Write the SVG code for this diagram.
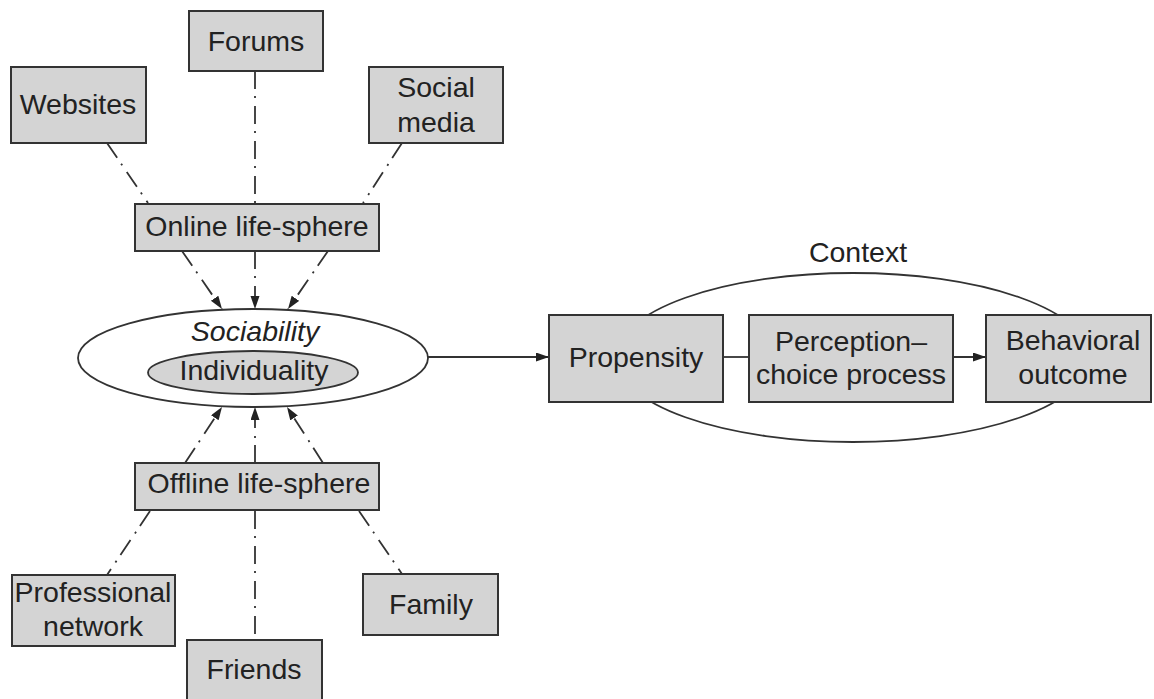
<svg xmlns="http://www.w3.org/2000/svg" width="1154" height="699" viewBox="0 0 1154 699">
<defs>
<style>
.box{fill:#d4d4d4;stroke:#333;stroke-width:2}
.t{font-family:"Liberation Sans",Arial,sans-serif;font-size:28.5px;fill:#222;text-anchor:middle}
.dd{stroke:#333;stroke-width:1.8;fill:none;stroke-dasharray:18 7 2 8}
.ln{stroke:#333;stroke-width:1.8;fill:none}
</style>
<marker id="ah" markerUnits="userSpaceOnUse" markerWidth="14" markerHeight="10" refX="13" refY="4.5" orient="auto">
<path d="M0,0 L13,4.5 L0,9 z" fill="#222"/>
</marker>
</defs>
<rect width="1154" height="699" fill="#fff"/>

<g id="context">
<ellipse cx="853" cy="357.5" rx="237" ry="84.5" fill="none" stroke="#333" stroke-width="1.8"/>
<text class="t" x="858" y="262">Context</text>
</g>

<g id="connectors">
<line class="dd" x1="107" y1="143" x2="148" y2="203"/>
<line class="dd" x1="255" y1="71" x2="255" y2="203"/>
<line class="dd" x1="402" y1="143" x2="363" y2="203"/>
<line class="dd" x1="182" y1="251" x2="222" y2="309" marker-end="url(#ah)"/>
<line class="dd" x1="255" y1="251" x2="255" y2="309" marker-end="url(#ah)"/>
<line class="dd" x1="328" y1="251" x2="288" y2="309" marker-end="url(#ah)"/>
<line class="dd" x1="185" y1="463" x2="222" y2="407" marker-end="url(#ah)"/>
<line class="dd" x1="255" y1="463" x2="255" y2="407" marker-end="url(#ah)"/>
<line class="dd" x1="323" y1="463" x2="287" y2="407" marker-end="url(#ah)"/>
<line class="dd" x1="150" y1="511" x2="107" y2="575"/>
<line class="dd" x1="255" y1="511" x2="255" y2="640"/>
<line class="dd" x1="359" y1="511" x2="402" y2="574"/>
<line class="ln" x1="428" y1="357" x2="549" y2="357" marker-end="url(#ah)"/>
<line class="ln" x1="723" y1="357" x2="749" y2="357"/>
<line class="ln" x1="953" y1="357" x2="986" y2="357" marker-end="url(#ah)"/>
</g>

<g id="forums"><rect class="box" x="189" y="11" width="134" height="60"/><text class="t" x="256" y="51">Forums</text></g>
<g id="websites"><rect class="box" x="11" y="67" width="135" height="76"/><text class="t" x="78" y="114">Websites</text></g>
<g id="social-media"><rect class="box" x="369" y="67" width="134" height="76"/><text class="t" x="436" y="97">Social</text><text class="t" x="436" y="132">media</text></g>
<g id="online"><rect class="box" x="135" y="204" width="244" height="47"/><text class="t" x="257" y="236">Online life-sphere</text></g>

<g id="sociability">
<ellipse cx="253" cy="358" rx="175" ry="49" fill="#fff" stroke="#333" stroke-width="1.8"/>
<text class="t" x="255" y="341" font-style="italic">Sociability</text>
</g>
<g id="individuality">
<ellipse cx="253" cy="372.5" rx="105" ry="21.5" fill="#d4d4d4" stroke="#333" stroke-width="1.8"/>
<text class="t" x="254" y="380">Individuality</text>
</g>

<g id="offline"><rect class="box" x="135" y="463" width="244" height="47"/><text class="t" x="259" y="493">Offline life-sphere</text></g>
<g id="professional"><rect class="box" x="12" y="575" width="163" height="71"/><text class="t" x="93" y="602">Professional</text><text class="t" x="93" y="636">network</text></g>
<g id="friends"><rect class="box" x="187" y="640" width="135" height="70"/><text class="t" x="254" y="679">Friends</text></g>
<g id="family"><rect class="box" x="363" y="574" width="135" height="61"/><text class="t" x="431" y="614">Family</text></g>

<g id="propensity"><rect class="box" x="549" y="315" width="174" height="87"/><text class="t" x="636" y="367">Propensity</text></g>
<g id="perception"><rect class="box" x="749" y="315" width="204" height="87"/><text class="t" x="851" y="351">Perception–</text><text class="t" x="851" y="384">choice process</text></g>
<g id="behavioral"><rect class="box" x="986" y="315" width="165" height="87"/><text class="t" x="1073" y="350">Behavioral</text><text class="t" x="1073" y="384">outcome</text></g>
</svg>
